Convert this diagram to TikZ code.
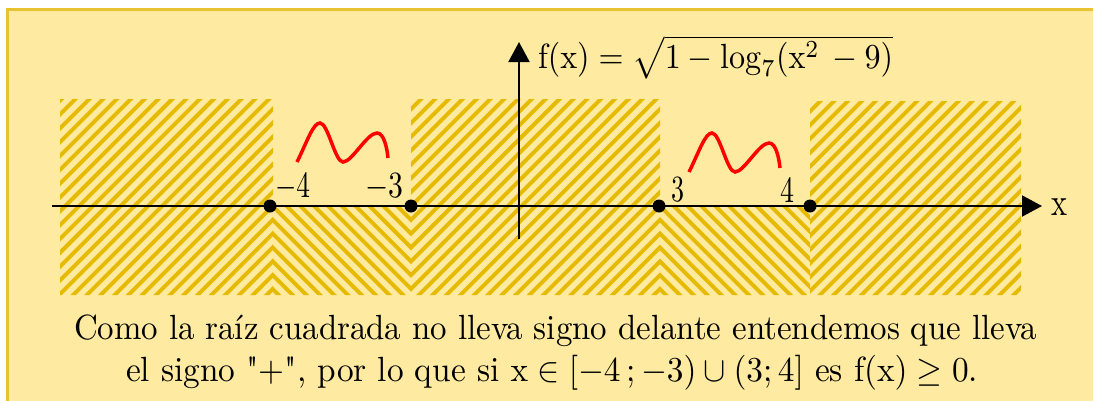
\documentclass[tikz,border=0pt]{standalone}
\usepackage{graphicx}
\usetikzlibrary{arrows.meta}
\definecolor{bg}{RGB}{254,235,161}
\definecolor{stripe}{RGB}{230,186,0}
\definecolor{framecol}{RGB}{233,194,50}
\font\qfont="[lmroman10-regular]" at 10pt
\newcommand{\sq}{{\qfont\char34}}
\newcommand{\fitw}[3]{\resizebox{#1}{#2\height}{#3}}
\begin{document}
\begin{tikzpicture}[x=1pt,y=-1pt,
  every node/.style={inner sep=0pt, outer sep=0pt},
  axis/.style={line width=2pt, -{Triangle[length=20pt,width=21pt]}},
  hatchline/.style={stripe, line width=3.9pt},
  wave/.style={red, line width=3.5pt},
  pt/.style={circle, fill=black, minimum size=13pt, inner sep=0pt}]
\useasboundingbox (0,0) rectangle (1093,400);
\clip (0,0) rectangle (1093,400);
\fill[white] (0,0) rectangle (1093,400);
\draw[framecol, line width=2.7pt, fill=bg] (7.3,9.3) rectangle (1200,500);
% hatching "/"
\begin{scope}
\clip (60,99) rectangle (273,295) (411,99) rectangle (660,295) (810,101) rectangle (1021,295);
\foreach \k in {-36,...,53} \draw[hatchline] ({411+13.83*\k-300},506) -- ({411+13.83*\k+300},-94);
\end{scope}
% hatching "\"
\begin{scope}
\clip (273,206) rectangle (411,295) (660,206) rectangle (810,295);
\foreach \k in {-19,...,31} \draw[hatchline] ({411+13.83*\k-300},-94) -- ({411+13.83*\k+300},506);
\end{scope}
% red waves
\draw[wave] (297,162) .. controls (307,142) and (313,123) .. (320,123) .. controls (328,123) and (335,162) .. (343,162) .. controls (352,162) and (367,133) .. (377,133) .. controls (384,133) and (387,148) .. (388,158);
\begin{scope}[shift={(392,10)}]
\draw[wave] (297,162) .. controls (307,142) and (313,123) .. (320,123) .. controls (328,123) and (335,162) .. (343,162) .. controls (352,162) and (367,133) .. (377,133) .. controls (384,133) and (387,148) .. (388,158);
\end{scope}
% axes
\coordinate (xs) at (52,206);
\coordinate (xe) at (1042,206);
\coordinate (ys) at (519,239);
\coordinate (ye) at (519,42);
\draw[axis] (xs) -- (xe);
\draw[axis] (ys) -- (ye);
% points
\node[pt] (pm4) at (270,206) {};
\node[pt] (pm3) at (411,206) {};
\node[pt] (p3) at (659,206) {};
\node[pt] (p4) at (810,206) {};
% labels
\node[anchor=base west] (lm4) at (275,197) {\fitw{35pt}{3.7}{$-4$}};
\node[anchor=base west] (lm3) at (365,197) {\fitw{38pt}{3.7}{$-3$}};
\node[anchor=base west] (l3) at (671,201) {\fitw{13pt}{3.7}{$3$}};
\node[anchor=base west] (l4) at (780,202) {\fitw{14pt}{3.7}{$4$}};
\node[anchor=base west] (lx) at (1051,215) {\fitw{16pt}{3.9}{$\mathrm{x}$}};
\node[anchor=base west] (fx) at (538,68) {\fitw{355pt}{3.5}{$\mathrm{f}(\mathrm{x})=\sqrt{1-\log_7(\mathrm{x}^2\,-9)}$}};
% text
\node[anchor=base west] (t1) at (74,339) {\fitw{963pt}{3.5}{Como la raíz cuadrada no lleva signo delante entendemos que lleva}};
\node[anchor=base west] (t2) at (126,381) {\fitw{852pt}{3.5}{el signo \sq+\sq, por lo que si $\mathrm{x}\in[-4\,;-3)\cup(3;4]$ es $\mathrm{f}(\mathrm{x})\geq 0$.}};
\end{tikzpicture}
\end{document}
